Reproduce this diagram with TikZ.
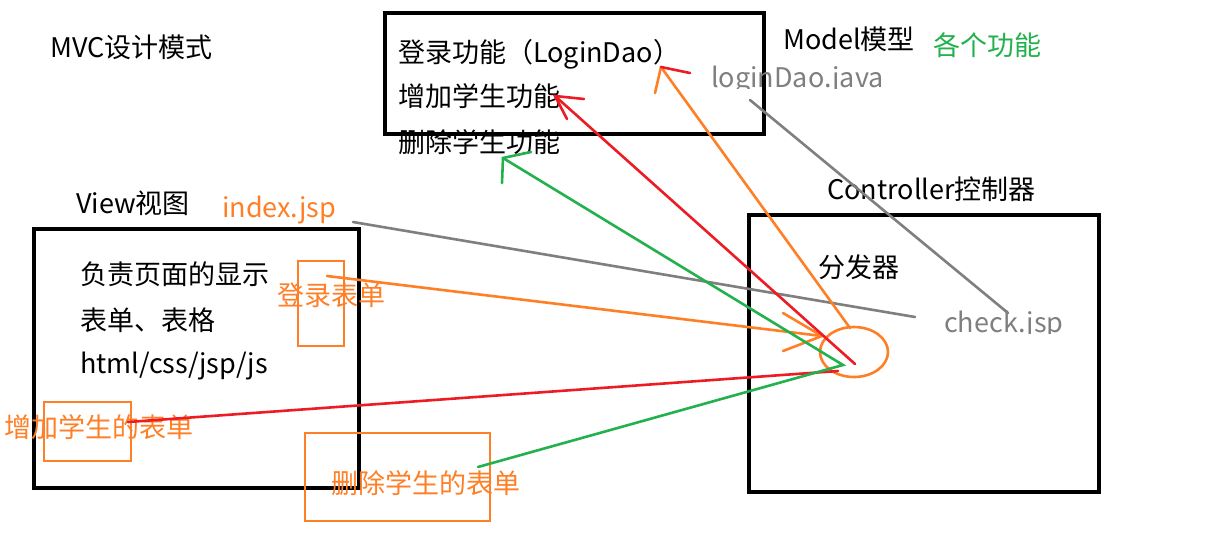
\documentclass[tikz,border=0pt]{standalone}
\usepackage{fontspec}
\setmainfont{Noto Sans CJK SC}
\usetikzlibrary{shapes.geometric}
\definecolor{porange}{HTML}{FF7F27}
\definecolor{pred}{HTML}{ED1C24}
\definecolor{pgreen}{HTML}{22B14C}
\definecolor{pgray}{HTML}{7F7F7F}
\begin{document}
\begin{tikzpicture}[x=1pt,y=-1pt,
  txt/.style={inner sep=0pt,anchor=base west,font=\fontsize{27}{32}\selectfont},
  bigbox/.style={draw=black,line width=3.2pt,rectangle,inner sep=0pt},
  formbox/.style={draw=porange,line width=2.8pt,rectangle,inner sep=0pt},
  wire/.style={line width=2.6pt,line cap=round},
]
\useasboundingbox[fill=white] (0,0) rectangle (1207,552);

% big boxes
\node[bigbox,minimum width=379pt,minimum height=121pt] (model) at (574.5,73.5) {};
\node[bigbox,minimum width=325pt,minimum height=259pt] (view) at (196.5,358.5) {};
\node[bigbox,minimum width=350pt,minimum height=277pt] (ctrl) at (924,353.5) {};

% form boxes
\node[formbox,minimum width=46pt,minimum height=85pt] (loginbox) at (321,303.5) {};
\node[formbox,minimum width=87pt,minimum height=59pt] (addbox) at (87.5,431.5) {};
\node[formbox,minimum width=185pt,minimum height=88pt] (delbox) at (397.5,477) {};
\node[draw=porange,line width=2.6pt,ellipse,inner sep=0pt,minimum width=68pt,minimum height=50pt] (disp) at (854,352) {};

% texts
\node[txt] (mvc) at (50,57) {MVC设计模式};
\node[txt] (f1) at (398,62) {登录功能（LoginDao）};
\node[txt] (f2) at (398,106.5) {增加学生功能};
\node[txt] (f3) at (398,152.5) {删除学生功能};
\node[txt] (modelt) at (783,49) {Model模型};
\node[txt,text=pgreen] (each) at (933,55.5) {各个功能};
\begin{scope}
\clip (700,50) rectangle (900,88.5);
\node[txt,text=pgray] (ldj) at (711,87) {loginDao.java};
\end{scope}
\node[txt] (ctrlt) at (827,199) {Controller控制器};
\node[txt] (viewt) at (76,213) {View视图};
\node[txt,text=porange] (idx) at (222,217) {index.jsp};
\node[txt] (v1) at (80,284) {负责页面的显示};
\node[txt] (v2) at (80,330) {表单、表格};
\node[txt] (v3) at (80,373) {html/css/jsp/js};
\node[txt,text=porange] (loginform) at (277,305) {登录表单};
\node[txt,text=porange] (addform) at (4,437.5) {增加学生的表单};
\node[txt,text=porange] (delform) at (331,493.5) {删除学生的表单};
\node[txt] (dispt) at (818,277) {分发器};
\begin{scope}
\clip (930,290) rectangle (1080,333.5);
\node[txt,text=pgray] (chk) at (944,332) {check.jsp};
\end{scope}

% endpoints
\coordinate (gA) at (353,222);
\coordinate (gB) at (915,317);
\coordinate (gC) at (750,100);
\coordinate (gD) at (1008,313);
\coordinate (oA) at (327,276);
\coordinate (oTip) at (822,336);
\coordinate (oB) at (850,328);
\coordinate (oTip2) at (661,67);
\coordinate (rA) at (128,422);
\coordinate (rB) at (838,371);
\coordinate (rC) at (855,364);
\coordinate (rTip) at (555,96);
\coordinate (nA) at (478,467);
\coordinate (nB) at (843,365);
\coordinate (nTip) at (503,158);

% gray lines
\draw[wire,pgray] (gA) -- (gB);
\draw[wire,pgray] (gC) -- (gD);

% orange: login form -> dispatcher
\draw[wire,porange] (oA) -- (oTip);
\draw[wire,porange] (783,313) -- (oTip) -- (783,351);
% orange: dispatcher -> LoginDao
\draw[wire,porange] (oB) -- (oTip2);
\draw[wire,porange] (oTip2) -- (655,93);
\draw[wire,pred] (oTip2) -- (690,73);

% red: add form -> dispatcher -> add function
\draw[wire,pred] (rA) -- (rB);
\draw[wire,pred] (rC) -- (rTip);
\draw[wire,pred] (584,99) -- (rTip) -- (567,119);

% green: delete form -> dispatcher -> delete function
\draw[wire,pgreen] (nA) -- (nB) -- (nTip);
\draw[wire,pgreen] (531,152) -- (nTip) -- (502,183);
\end{tikzpicture}
\end{document}
